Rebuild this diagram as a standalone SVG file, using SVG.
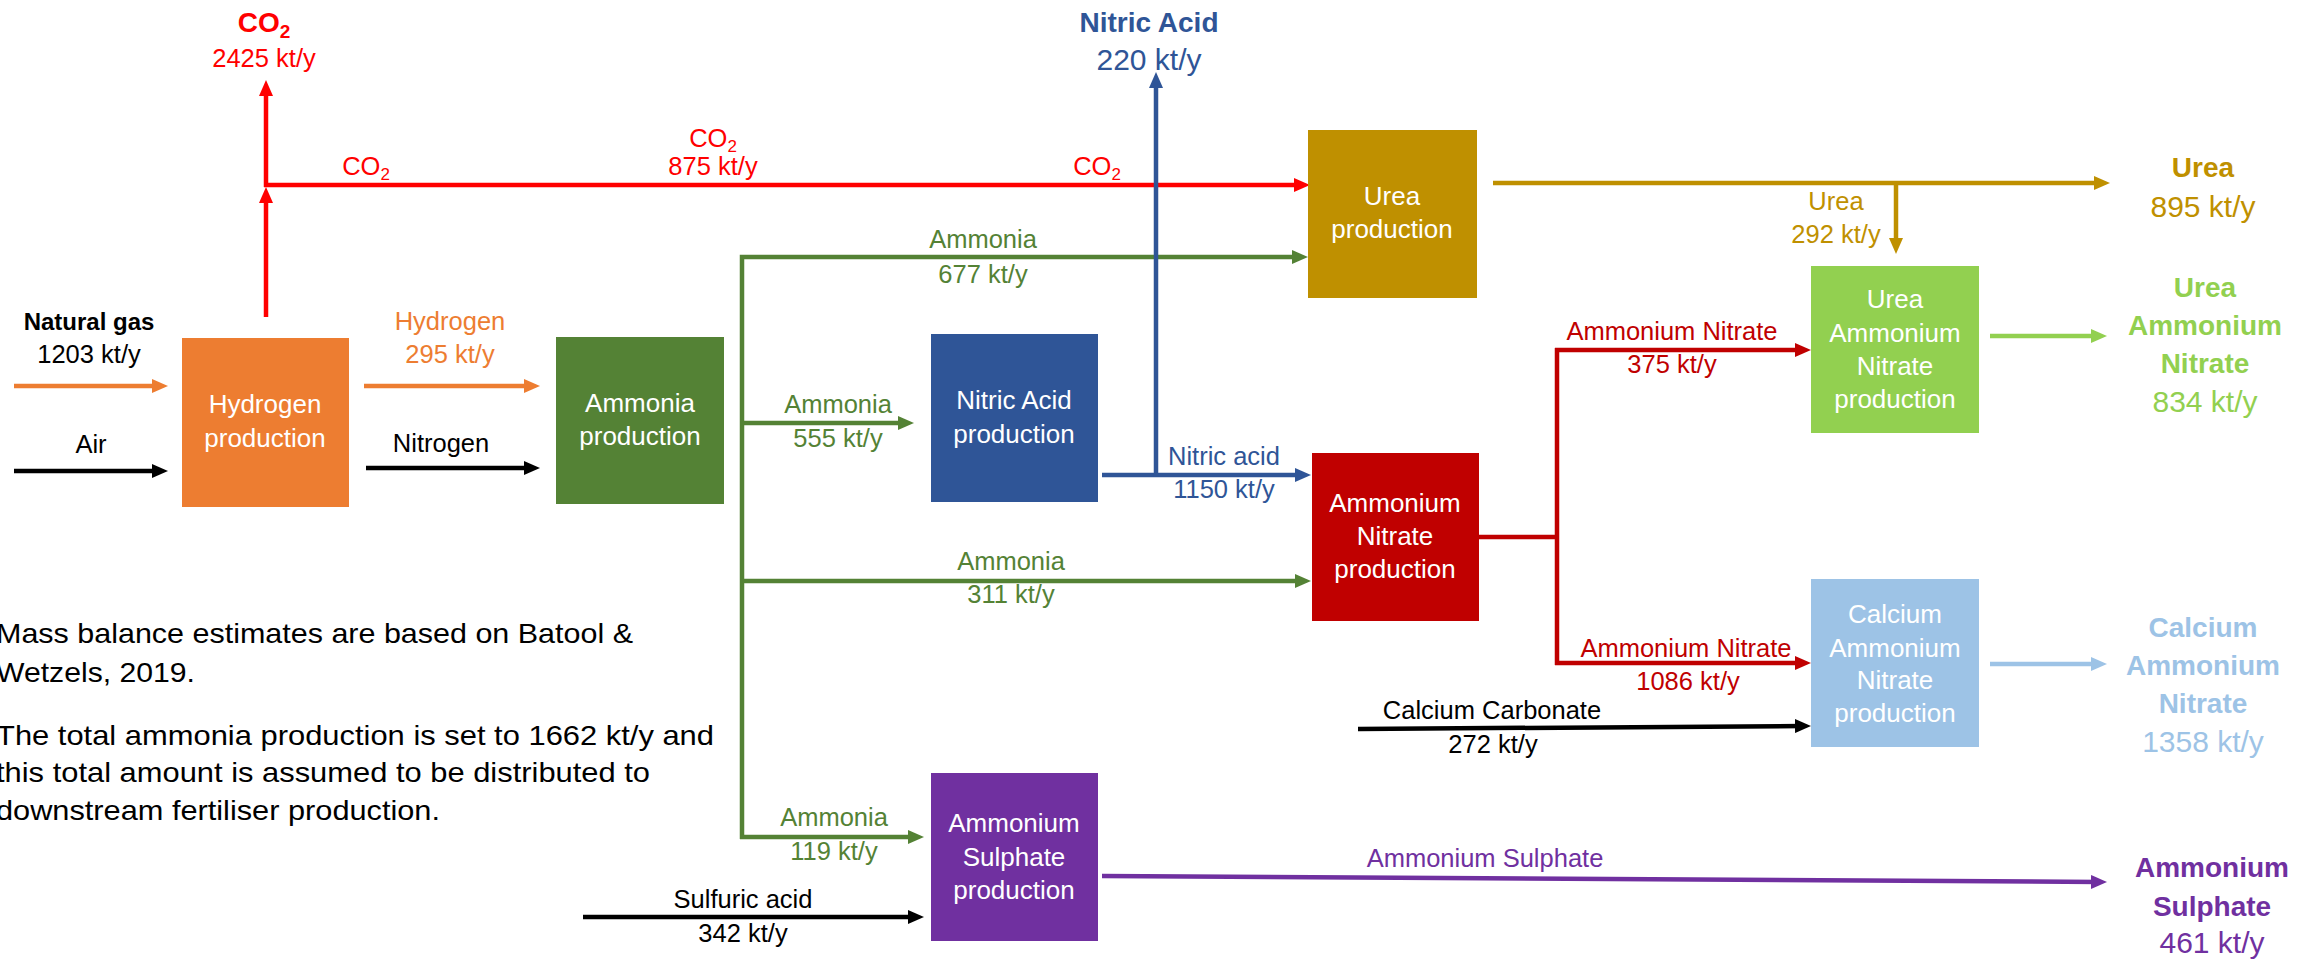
<svg xmlns="http://www.w3.org/2000/svg" width="2308" height="959" viewBox="0 0 2308 959">
<style>
text{font-family:"Liberation Sans",Arial,sans-serif;text-anchor:middle}
.lb{font-size:25.5px}
.bx{font-size:26px;fill:#fff}
.out{font-size:28px;font-weight:bold}
.val{font-size:30px}
.note{font-size:28px;text-anchor:start;fill:#000}
.c{fill:none;stroke-width:4.5}
</style>
<defs>
<marker id="mR" markerUnits="userSpaceOnUse" markerWidth="16" markerHeight="14" viewBox="0 0 16 14" refX="8" refY="7" orient="auto"><path d="M0,0L16,7L0,14Z" fill="#FF0000"/></marker>
<marker id="mO" markerUnits="userSpaceOnUse" markerWidth="16" markerHeight="14" viewBox="0 0 16 14" refX="8" refY="7" orient="auto"><path d="M0,0L16,7L0,14Z" fill="#ED7D31"/></marker>
<marker id="mK" markerUnits="userSpaceOnUse" markerWidth="16" markerHeight="14" viewBox="0 0 16 14" refX="8" refY="7" orient="auto"><path d="M0,0L16,7L0,14Z" fill="#000"/></marker>
<marker id="mG" markerUnits="userSpaceOnUse" markerWidth="16" markerHeight="14" viewBox="0 0 16 14" refX="8" refY="7" orient="auto"><path d="M0,0L16,7L0,14Z" fill="#548235"/></marker>
<marker id="mB" markerUnits="userSpaceOnUse" markerWidth="16" markerHeight="14" viewBox="0 0 16 14" refX="8" refY="7" orient="auto"><path d="M0,0L16,7L0,14Z" fill="#2F5597"/></marker>
<marker id="mY" markerUnits="userSpaceOnUse" markerWidth="16" markerHeight="14" viewBox="0 0 16 14" refX="8" refY="7" orient="auto"><path d="M0,0L16,7L0,14Z" fill="#BF9000"/></marker>
<marker id="mD" markerUnits="userSpaceOnUse" markerWidth="16" markerHeight="14" viewBox="0 0 16 14" refX="8" refY="7" orient="auto"><path d="M0,0L16,7L0,14Z" fill="#C00000"/></marker>
<marker id="mL" markerUnits="userSpaceOnUse" markerWidth="16" markerHeight="14" viewBox="0 0 16 14" refX="8" refY="7" orient="auto"><path d="M0,0L16,7L0,14Z" fill="#92D050"/></marker>
<marker id="mC" markerUnits="userSpaceOnUse" markerWidth="16" markerHeight="14" viewBox="0 0 16 14" refX="8" refY="7" orient="auto"><path d="M0,0L16,7L0,14Z" fill="#9DC3E6"/></marker>
<marker id="mP" markerUnits="userSpaceOnUse" markerWidth="16" markerHeight="14" viewBox="0 0 16 14" refX="8" refY="7" orient="auto"><path d="M0,0L16,7L0,14Z" fill="#7030A0"/></marker>
</defs>

<g id="connectors">
<path class="c" stroke="#FF0000" d="M266,317V195" marker-end="url(#mR)"/>
<path class="c" stroke="#FF0000" d="M266,187V88" marker-end="url(#mR)"/>
<path class="c" stroke="#FF0000" d="M264,185H1302" marker-end="url(#mR)"/>
<path class="c" stroke="#ED7D31" d="M14,386H160" marker-end="url(#mO)"/>
<path class="c" stroke="#ED7D31" d="M364,386H532" marker-end="url(#mO)"/>
<path class="c" stroke="#000" stroke-width="5" d="M14,471H160" marker-end="url(#mK)"/>
<path class="c" stroke="#000" stroke-width="5" d="M366,468H532" marker-end="url(#mK)"/>
<path class="c" stroke="#000" stroke-width="5" d="M583,917H916" marker-end="url(#mK)"/>
<path class="c" stroke="#000" stroke-width="5" d="M1358,729L1803,726" marker-end="url(#mK)"/>
<path class="c" stroke="#548235" d="M742,839V257H1300" marker-end="url(#mG)"/>
<path class="c" stroke="#548235" d="M740,837H916" marker-end="url(#mG)"/>
<path class="c" stroke="#548235" d="M742,423H906" marker-end="url(#mG)"/>
<path class="c" stroke="#548235" d="M744,581H1303" marker-end="url(#mG)"/>
<path class="c" stroke="#2F5597" d="M1102,475H1303" marker-end="url(#mB)"/>
<path class="c" stroke="#2F5597" d="M1156,477V80" marker-end="url(#mB)"/>
<path class="c" stroke="#BF9000" d="M1493,183H2102" marker-end="url(#mY)"/>
<path class="c" stroke="#BF9000" d="M1896,183V246" marker-end="url(#mY)"/>
<path class="c" stroke="#C00000" d="M1479,537H1557"/>
<path class="c" stroke="#C00000" d="M1557,348V665"/>
<path class="c" stroke="#C00000" d="M1555,350H1803" marker-end="url(#mD)"/>
<path class="c" stroke="#C00000" d="M1555,663H1803" marker-end="url(#mD)"/>
<path class="c" stroke="#92D050" d="M1990,336H2099" marker-end="url(#mL)"/>
<path class="c" stroke="#9DC3E6" d="M1990,664H2099" marker-end="url(#mC)"/>
<path class="c" stroke="#7030A0" d="M1102,876L2099,882" marker-end="url(#mP)"/>
</g>

<g id="connector-labels">
<text class="out" x="264" y="32" fill="#FF0000">CO<tspan font-size="19" dy="6">2</tspan></text>
<text class="lb" x="264" y="67" fill="#FF0000" font-size="26">2425 kt/y</text>
<text class="lb" x="366" y="175" fill="#FF0000">CO<tspan font-size="17" dy="5">2</tspan></text>
<text class="lb" x="713" y="147" fill="#FF0000">CO<tspan font-size="17" dy="5">2</tspan></text>
<text class="lb" x="713" y="175" fill="#FF0000">875 kt/y</text>
<text class="lb" x="1097" y="175" fill="#FF0000">CO<tspan font-size="17" dy="5">2</tspan></text>
<text x="89" y="330" font-size="24" font-weight="bold" fill="#000">Natural gas</text>
<text class="lb" x="89" y="363" fill="#000">1203 kt/y</text>
<text class="lb" x="91" y="453" fill="#000">Air</text>
<text class="lb" x="450" y="330" fill="#ED7D31">Hydrogen</text>
<text class="lb" x="450" y="363" fill="#ED7D31">295 kt/y</text>
<text class="lb" x="441" y="452" fill="#000">Nitrogen</text>
<text class="out" x="1149" y="32" fill="#2F5597">Nitric Acid</text>
<text class="val" x="1149" y="70" fill="#2F5597">220 kt/y</text>
<text class="lb" x="983" y="248" fill="#548235">Ammonia</text>
<text class="lb" x="983" y="283" fill="#548235">677 kt/y</text>
<text class="lb" x="838" y="413" fill="#548235">Ammonia</text>
<text class="lb" x="838" y="447" fill="#548235">555 kt/y</text>
<text class="lb" x="1224" y="465" fill="#2F5597">Nitric acid</text>
<text class="lb" x="1224" y="498" fill="#2F5597">1150 kt/y</text>
<text class="lb" x="1011" y="570" fill="#548235">Ammonia</text>
<text class="lb" x="1011" y="603" fill="#548235">311 kt/y</text>
<text class="lb" x="834" y="826" fill="#548235">Ammonia</text>
<text class="lb" x="834" y="860" fill="#548235">119 kt/y</text>
<text class="lb" x="743" y="908" fill="#000">Sulfuric acid</text>
<text class="lb" x="743" y="942" fill="#000">342 kt/y</text>
<text class="lb" x="1485" y="867" fill="#7030A0">Ammonium Sulphate</text>
<text class="lb" x="1492" y="719" fill="#000">Calcium Carbonate</text>
<text class="lb" x="1493" y="753" fill="#000">272 kt/y</text>
<text class="lb" x="1836" y="210" fill="#BF9000">Urea</text>
<text class="lb" x="1836" y="243" fill="#BF9000">292 kt/y</text>
<text class="lb" x="1672" y="340" fill="#C00000">Ammonium Nitrate</text>
<text class="lb" x="1672" y="373" fill="#C00000">375 kt/y</text>
<text class="lb" x="1686" y="657" fill="#C00000">Ammonium Nitrate</text>
<text class="lb" x="1688" y="690" fill="#C00000">1086 kt/y</text>
</g>

<g id="out-urea" fill="#BF9000">
<text class="out" x="2203" y="177" fill="#BF9000">Urea</text>
<text class="val" x="2203" y="217" fill="#BF9000">895 kt/y</text>
</g>
<g id="out-uan">
<text class="out" x="2205" y="297" fill="#92D050">Urea</text>
<text class="out" x="2205" y="335" fill="#92D050">Ammonium</text>
<text class="out" x="2205" y="373" fill="#92D050">Nitrate</text>
<text class="val" x="2205" y="412" fill="#92D050">834 kt/y</text>
</g>
<g id="out-can">
<text class="out" x="2203" y="637" fill="#9DC3E6">Calcium</text>
<text class="out" x="2203" y="675" fill="#9DC3E6">Ammonium</text>
<text class="out" x="2203" y="713" fill="#9DC3E6">Nitrate</text>
<text class="val" x="2203" y="752" fill="#9DC3E6">1358 kt/y</text>
</g>
<g id="out-as">
<text class="out" x="2212" y="877" fill="#7030A0">Ammonium</text>
<text class="out" x="2212" y="916" fill="#7030A0">Sulphate</text>
<text class="val" x="2212" y="953" fill="#7030A0">461 kt/y</text>
</g>

<g id="hydrogen-production">
<rect x="182" y="338" width="167" height="169" fill="#ED7D31"/>
<text class="bx" x="265" y="413">Hydrogen</text>
<text class="bx" x="265" y="447">production</text>
</g>
<g id="ammonia-production">
<rect x="556" y="337" width="168" height="167" fill="#548235"/>
<text class="bx" x="640" y="412">Ammonia</text>
<text class="bx" x="640" y="445">production</text>
</g>
<g id="nitric-acid-production">
<rect x="931" y="334" width="167" height="168" fill="#2F5597"/>
<text class="bx" x="1014" y="409">Nitric Acid</text>
<text class="bx" x="1014" y="443">production</text>
</g>
<g id="urea-production">
<rect x="1308" y="130" width="169" height="168" fill="#BF9000"/>
<text class="bx" x="1392" y="205">Urea</text>
<text class="bx" x="1392" y="238">production</text>
</g>
<g id="ammonium-nitrate-production">
<rect x="1312" y="453" width="167" height="168" fill="#C00000"/>
<text class="bx" x="1395" y="512">Ammonium</text>
<text class="bx" x="1395" y="545">Nitrate</text>
<text class="bx" x="1395" y="578">production</text>
</g>
<g id="uan-production">
<rect x="1811" y="266" width="168" height="167" fill="#92D050"/>
<text class="bx" x="1895" y="308">Urea</text>
<text class="bx" x="1895" y="342">Ammonium</text>
<text class="bx" x="1895" y="375">Nitrate</text>
<text class="bx" x="1895" y="408">production</text>
</g>
<g id="can-production">
<rect x="1811" y="579" width="168" height="168" fill="#9DC3E6"/>
<text class="bx" x="1895" y="623">Calcium</text>
<text class="bx" x="1895" y="657">Ammonium</text>
<text class="bx" x="1895" y="689">Nitrate</text>
<text class="bx" x="1895" y="722">production</text>
</g>
<g id="ammonium-sulphate-production">
<rect x="931" y="773" width="167" height="168" fill="#7030A0"/>
<text class="bx" x="1014" y="832">Ammonium</text>
<text class="bx" x="1014" y="866">Sulphate</text>
<text class="bx" x="1014" y="899">production</text>
</g>

<g id="note">
<text class="note" x="-4" y="643" textLength="637" lengthAdjust="spacingAndGlyphs">Mass balance estimates are based on Batool &amp;</text>
<text class="note" x="-4" y="682" textLength="199" lengthAdjust="spacingAndGlyphs">Wetzels, 2019.</text>
<text class="note" x="-4" y="745" textLength="718" lengthAdjust="spacingAndGlyphs">The total ammonia production is set to 1662 kt/y and</text>
<text class="note" x="-4" y="782" textLength="654" lengthAdjust="spacingAndGlyphs">this total amount is assumed to be distributed to</text>
<text class="note" x="-4" y="820" textLength="444" lengthAdjust="spacingAndGlyphs">downstream fertiliser production.</text>
</g>
</svg>
